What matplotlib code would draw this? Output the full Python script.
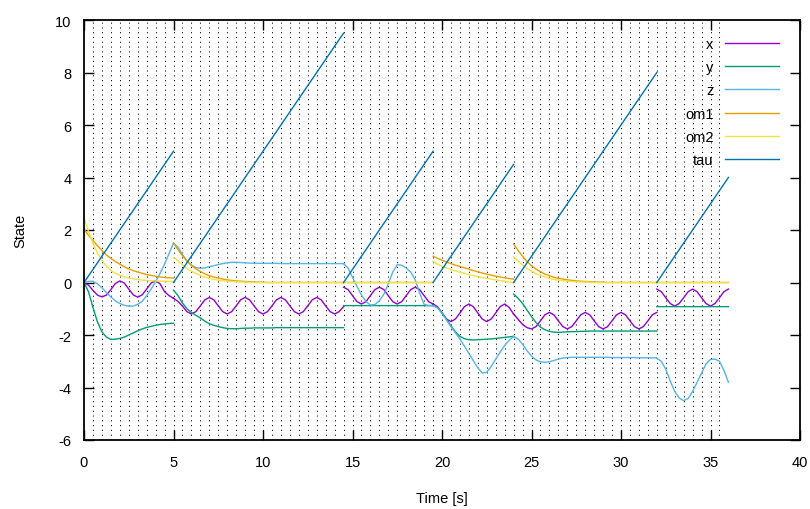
import numpy as np
from matplotlib import pyplot as plt

plt.rcParams['font.family'] = ['Liberation Sans', 'DejaVu Sans']
plt.rcParams['axes.unicode_minus'] = False

# segment boundaries [s]; every segment is sampled each 0.25 s
seg_edges = [0, 5, 14.5, 19.5, 24, 32, 36]
dt = 0.25

# tau restarts from 0 at every segment start
tau_end = [5.0, 9.5, 5.0, 4.5, 8.0, 4.0]

# dotted vertical marks
mark_times = np.arange(0.5, 36, 0.5)

x_segs = [
    [0.0, -0.1, -0.3, -0.48, -0.55, -0.48, -0.27, -0.04, 0.06, -0.02, -0.25, -0.47, -0.56, -0.47, -0.25,
     -0.02, 0.07, -0.05, -0.35, -0.5, -0.6],
    [-0.6, -0.72, -0.9, -1.11, -1.2, -1.11, -0.89, -0.66, -0.57, -0.66, -0.89, -1.11, -1.2, -1.11, -0.89,
     -0.66, -0.57, -0.66, -0.89, -1.11, -1.2, -1.11, -0.89, -0.66, -0.57, -0.66, -0.89, -1.11, -1.2, -1.11,
     -0.89, -0.66, -0.57, -0.66, -0.89, -1.11, -1.2, -1.11, -0.92],
    [-0.18, -0.27, -0.5, -0.73, -0.82, -0.73, -0.5, -0.27, -0.18, -0.27, -0.5, -0.73, -0.82, -0.73, -0.5,
     -0.27, -0.18, -0.27, -0.5, -0.73, -0.82],
    [-0.82, -0.92, -1.16, -1.39, -1.49, -1.39, -1.16, -0.92, -0.82, -0.92, -1.16, -1.39, -1.49, -1.39, -1.16,
     -0.92, -0.82, -0.95, -1.2],
    [-1.2, -1.4, -1.6, -1.72, -1.77, -1.68, -1.46, -1.23, -1.14, -1.23, -1.46, -1.68, -1.77, -1.68, -1.46,
     -1.23, -1.14, -1.23, -1.46, -1.68, -1.77, -1.68, -1.46, -1.23, -1.14, -1.23, -1.46, -1.68, -1.77, -1.68,
     -1.46, -1.23, -1.14],
    [-0.25, -0.35, -0.58, -0.8, -0.9, -0.8, -0.58, -0.35, -0.25, -0.35, -0.58, -0.8, -0.9, -0.8, -0.58,
     -0.35, -0.25],
]

y_segs = [
    [0.0, -0.35, -0.95, -1.5, -1.88, -2.08, -2.17, -2.16, -2.13, -2.08, -2.0, -1.92, -1.84, -1.77, -1.71,
     -1.67, -1.63, -1.6, -1.58, -1.56, -1.55],
    [-0.29, -0.5, -0.78, -1.0, -1.14, -1.25, -1.35, -1.47, -1.57, -1.63, -1.68, -1.72, -1.75, -1.76, -1.76,
     -1.75, -1.74, -1.74, -1.73, -1.73, -1.73, -1.73, -1.73, -1.72, -1.72, -1.72, -1.72, -1.72, -1.72, -1.72,
     -1.72, -1.72, -1.72, -1.72, -1.72, -1.72, -1.72, -1.72, -1.72],
    [-0.88] * 21,
    [-0.88, -0.95, -1.15, -1.4, -1.65, -1.88, -2.05, -2.14, -2.18, -2.19, -2.18, -2.17, -2.16, -2.15, -2.13,
     -2.11, -2.09, -2.07, -2.05],
    [-0.44, -0.6, -0.8, -1.05, -1.3, -1.52, -1.7, -1.8, -1.86, -1.89, -1.9, -1.89, -1.88, -1.87, -1.87,
     -1.86, -1.86, -1.85, -1.85, -1.85, -1.85, -1.85, -1.85, -1.85, -1.85, -1.85, -1.85, -1.85, -1.85, -1.85,
     -1.85, -1.85, -1.85],
    [-0.92] * 17,
]

z_segs = [
    [0.0, 0.04, 0.05, -0.05, -0.2, -0.38, -0.55, -0.7, -0.8, -0.87, -0.9, -0.9, -0.83, -0.72, -0.5,
     -0.25, 0.03, 0.35, 0.7, 1.1, 1.5],
    [1.5, 1.35, 1.07, 0.82, 0.66, 0.57, 0.54, 0.56, 0.6, 0.64, 0.68, 0.72, 0.75, 0.77, 0.77,
     0.76, 0.75, 0.74, 0.73, 0.73, 0.73, 0.73, 0.73, 0.73, 0.72, 0.72, 0.72, 0.72, 0.72, 0.72,
     0.72, 0.72, 0.72, 0.72, 0.72, 0.72, 0.72, 0.72, 0.72],
    [0.72, 0.55, 0.2, -0.15, -0.48, -0.72, -0.86, -0.84, -0.7, -0.45, -0.05, 0.4, 0.68, 0.66, 0.55,
     0.4, 0.1, -0.4, -0.83, -0.88, -0.88],
    [-0.88, -0.97, -1.18, -1.43, -1.68, -1.92, -2.15, -2.42, -2.7, -2.98, -3.25, -3.45, -3.42, -3.2, -2.92,
     -2.65, -2.4, -2.2, -2.06],
    [-2.06, -2.15, -2.35, -2.6, -2.8, -2.95, -3.02, -3.04, -3.02, -2.97, -2.92, -2.88, -2.86, -2.85, -2.85,
     -2.85, -2.85, -2.85, -2.85, -2.85, -2.85, -2.85, -2.86, -2.86, -2.86, -2.86, -2.86, -2.86, -2.87, -2.87,
     -2.87, -2.87, -2.87],
    [-2.89, -3.0, -3.3, -3.75, -4.15, -4.4, -4.5, -4.42, -4.15, -3.8, -3.45, -3.1, -2.93, -2.92, -3.0,
     -3.35, -3.8],
]

om1_segs = [
    [2.04, 1.8, 1.6, 1.4, 1.22, 1.05, 0.92, 0.8, 0.7, 0.6, 0.52, 0.45, 0.4, 0.35, 0.3,
     0.27, 0.24, 0.21, 0.19, 0.18, 0.17],
    [1.5, 1.25, 1.02, 0.82, 0.65, 0.52, 0.42, 0.33, 0.26, 0.21, 0.17, 0.13, 0.1, 0.08, 0.06,
     0.05, 0.04, 0.03, 0.02, 0.015, 0.01] + [0.0] * 18,
    [0.0] * 21,
    [1.0, 0.92, 0.85, 0.78, 0.72, 0.66, 0.61, 0.56, 0.51, 0.45, 0.41, 0.36, 0.32, 0.28, 0.24,
     0.21, 0.18, 0.15, 0.13],
    [1.47, 1.22, 1.0, 0.8, 0.64, 0.51, 0.41, 0.32, 0.26, 0.2, 0.16, 0.13, 0.1, 0.08, 0.06,
     0.05, 0.04, 0.03, 0.02, 0.015, 0.01] + [0.0] * 12,
    [0.0] * 17,
]

om2_segs = [
    [2.48, 1.95, 1.5, 1.12, 0.85, 0.62, 0.46, 0.35, 0.27, 0.21, 0.17, 0.14, 0.11, 0.09, 0.08,
     0.07, 0.06, 0.05, 0.05, 0.04, 0.04],
    [0.96, 0.82, 0.67, 0.54, 0.43, 0.34, 0.27, 0.21, 0.16, 0.12, 0.09, 0.07, 0.05, 0.04, 0.03,
     0.02, 0.015, 0.01] + [0.0] * 21,
    [0.0] * 21,
    [0.8, 0.7, 0.62, 0.55, 0.49, 0.44, 0.39, 0.35, 0.3, 0.26, 0.22, 0.19, 0.16, 0.13, 0.1,
     0.07, 0.05, 0.02, 0.0],
    [0.98, 0.82, 0.67, 0.54, 0.43, 0.34, 0.27, 0.21, 0.16, 0.12, 0.09, 0.07, 0.05, 0.04, 0.03,
     0.02, 0.015, 0.01] + [0.0] * 15,
    [0.0] * 17,
]

labels = ["x", "y", "z", "om1", "om2", "tau"]
colors = ["#9400d3", "#009e73", "#56b4e9", "#e69f00", "#f0e442", "#0072b2"]


def join_segments(segs):
    ts, vs = [], []
    for k, vals in enumerate(segs):
        t = seg_edges[k] + dt * np.arange(len(vals))
        assert abs(t[-1] - seg_edges[k + 1]) < 1e-9, (k, len(vals))
        ts += list(t) + [np.nan]
        vs += list(vals) + [np.nan]
    return ts, vs


fig = plt.figure(figsize=(8.1, 5.1), dpi=100)
ax = fig.add_axes([84 / 810, 69 / 510, 716 / 810, 420 / 510])

for mt in mark_times:
    ax.axvline(mt, color='black', lw=0.75, linestyle=(0, (1.0, 3.6)), zorder=1)

for segs, lab, col in zip([x_segs, y_segs, z_segs, om1_segs, om2_segs], labels[:5], colors[:5]):
    ts, vs = join_segments(segs)
    ax.plot(ts, vs, color=col, lw=1.0, label=lab, zorder=2)

for k in range(len(tau_end)):
    ax.plot([seg_edges[k], seg_edges[k + 1]], [0, tau_end[k]], color=colors[5], lw=1.0,
            label=labels[5] if k == 0 else None, zorder=2)

ax.set_xlim(0, 40)
ax.set_ylim(-6, 10)
ax.set_xticks(np.arange(0, 41, 5))
ax.set_yticks(np.arange(-6, 11, 2))
ax.tick_params(direction='in', top=True, right=True, length=7, width=1.0, labelsize=10.5)
ax.tick_params(axis='x', pad=11)
ax.tick_params(axis='y', pad=9)
for sp in ax.spines.values():
    sp.set_linewidth(1.3)

ax.set_xlabel("Time [s]", fontsize=10.5, labelpad=16)
ax.set_ylabel("State", fontsize=10.5, labelpad=20)

ax.legend(loc='upper right', bbox_to_anchor=(0.9707, 0.960), frameon=False, markerfirst=False,
          fontsize=10.5, handlelength=3.7, handletextpad=0.8, labelspacing=0.64,
          borderpad=0, borderaxespad=0)

fig.savefig("out.png", dpi=100)
